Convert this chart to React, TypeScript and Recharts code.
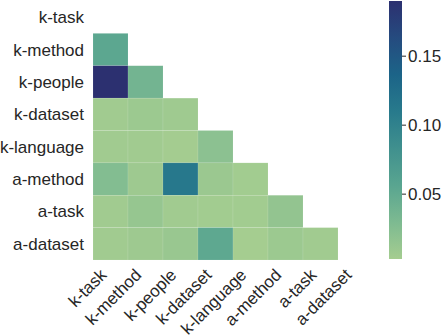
import React from 'react';
import {
  ScatterChart,
  Scatter,
  XAxis,
  YAxis,
  BarChart,
  Bar,
} from 'recharts';

const labels = ['k-task', 'k-method', 'k-people', 'k-dataset', 'k-language', 'a-method', 'a-task', 'a-dataset'];

// lower triangle, one array per row (row 0 "k-task" is fully masked)
const rowKMethod = [0.054];
const rowKPeople = [0.19, 0.037];
const rowKDataset = [0.006, 0.009, 0.007];
const rowKLanguage = [0.006, 0.006, 0.004, 0.02];
const rowAMethod = [0.026, 0.008, 0.112, 0.01, 0.005];
const rowATask = [0.006, 0.013, 0.006, 0.005, 0.005, 0.015];
const rowADataset = [0.006, 0.008, 0.011, 0.053, 0.003, 0.009, 0.006];

const rows = [[], rowKMethod, rowKPeople, rowKDataset, rowKLanguage, rowAMethod, rowATask, rowADataset];
const cbTicks = [0.05, 0.1, 0.15];

// seaborn "crest"
const crest = ['#a5cd90', '#7dba91', '#59a590', '#40908e', '#287a8c', '#1c6488', '#254b7f', '#2c3070'];

const cells = rows.flatMap((row, i) => row.map((v, j) => ({ x: j + 0.5, y: i + 0.5, v })));
const allValues = cells.map((c) => c.v);
const vmin = Math.min(...allValues);
const vmax = Math.max(...allValues);
const colorbarData = [{ name: 'cb', range: [vmin, vmax] }];

const hexToRgb = (h: string) => [1, 3, 5].map((k) => parseInt(h.slice(k, k + 2), 16));

const crestColor = (v: number): string => {
  const t = Math.max(0, Math.min(1, (v - vmin) / (vmax - vmin)));
  const pos = t * (crest.length - 1);
  const i = Math.min(Math.floor(pos), crest.length - 2);
  const f = pos - i;
  const a = hexToRgb(crest[i]);
  const b = hexToRgb(crest[i + 1]);
  const c = a.map((av, k) => Math.round(av + (b[k] - av) * f));
  return `rgb(${c[0]},${c[1]},${c[2]})`;
};

const W = 380;
const H = 336;
const margin = { top: 1, right: 7, left: 8, bottom: 6 };
const yAxisWidth = 85;
const xAxisHeight = 70;
const plotW = W - margin.left - margin.right - yAxisWidth;
const plotH = H - margin.top - margin.bottom - xAxisHeight;
const cellW = plotW / labels.length;
const cellH = plotH / labels.length;

const ticks = labels.map((_, i) => i + 0.5);
const font = '"Liberation Sans", Arial, sans-serif';

const XTick = ({ x, y, payload }: any) => (
  <g transform={`translate(${x - 3},${y + 16})`}>
    <text textAnchor="end" transform="rotate(-45)" fontSize={17} fontFamily={font} fill="#262626">
      {labels[Math.floor(payload.value)]}
    </text>
  </g>
);

const Cell = (props: any) => {
  const { cx, cy, payload } = props;
  return (
    <rect
      x={cx - cellW / 2}
      y={cy - cellH / 2}
      width={cellW}
      height={cellH}
      fill={crestColor(payload.v)}
      stroke="#ffffff"
      strokeOpacity={0.2}
      strokeWidth={0.5}
    />
  );
};

export default function App() {
  return (
    <div style={{ position: 'absolute', left: 0, top: 0, width: 442, height: 336 }}>
      <div style={{ position: 'absolute', left: 0, top: 0 }}>
        <ScatterChart width={W} height={H} margin={margin}>
          <XAxis
            type="number"
            dataKey="x"
            domain={[0, 8]}
            ticks={ticks}
            interval={0}
            height={xAxisHeight}
            axisLine={false}
            tickLine={false}
            tickSize={0}
            tickMargin={0}
            tick={<XTick />}
          />
          <YAxis
            type="number"
            dataKey="y"
            domain={[0, 8]}
            reversed
            ticks={ticks}
            interval={0}
            width={yAxisWidth}
            axisLine={false}
            tickLine={false}
            tickSize={0}
            tickMargin={9}
            tickFormatter={(v: number) => labels[Math.floor(v)]}
            tick={{ fontSize: 17, fill: '#262626', fontFamily: font }}
          />
          <Scatter data={cells} shape={<Cell />} isAnimationActive={false} />
        </ScatterChart>
      </div>
      <div style={{ position: 'absolute', left: 380, top: 0 }}>
        <BarChart
          width={62}
          height={H}
          data={colorbarData}
          margin={{ top: 1, right: 0, left: 9, bottom: 77 }}
          barCategoryGap={0}
        >
          <defs>
            <linearGradient id="crestGrad" x1="0" y1="1" x2="0" y2="0">
              {crest.map((c, i) => (
                <stop key={i} offset={i / (crest.length - 1)} stopColor={c} />
              ))}
            </linearGradient>
          </defs>
          <XAxis dataKey="name" hide />
          <YAxis
            type="number"
            orientation="right"
            domain={[vmin, vmax]}
            allowDataOverflow
            ticks={cbTicks}
            interval={0}
            width={40}
            axisLine={false}
            tickLine={{ stroke: '#262626', strokeWidth: 1 }}
            tickSize={4}
            tickMargin={2}
            tickFormatter={(v: number) => v.toFixed(2)}
            tick={{ fontSize: 17, fill: '#262626', fontFamily: font }}
          />
          <Bar dataKey="range" fill="url(#crestGrad)" isAnimationActive={false} />
        </BarChart>
      </div>
    </div>
  );
}
